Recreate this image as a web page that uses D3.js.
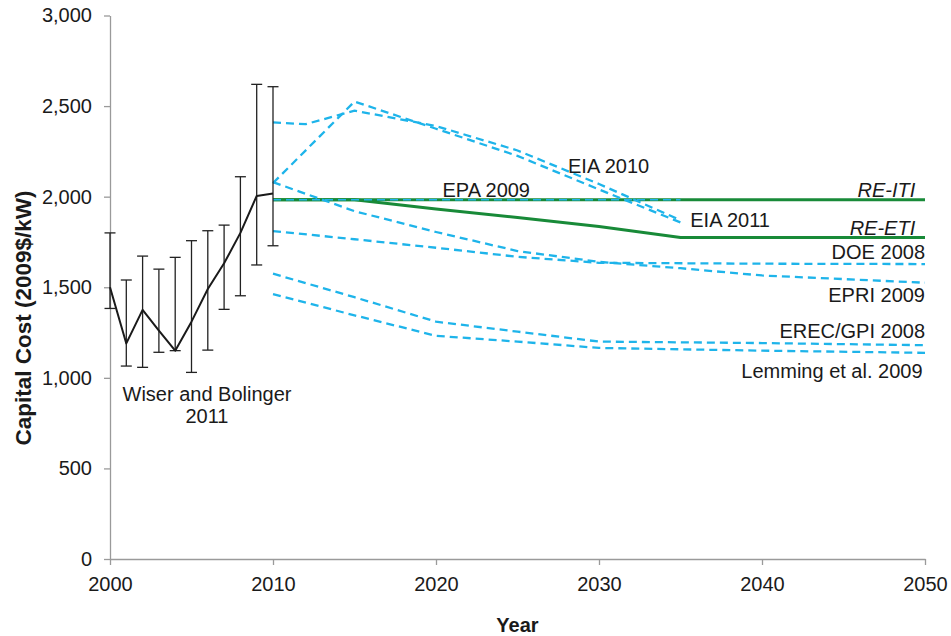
<!DOCTYPE html>
<html>
<head>
<meta charset="utf-8">
<script src="https://cdn.jsdelivr.net/npm/d3@7"></script>
<style>
  html, body { margin: 0; padding: 0; background: #fff; }
  svg { display: block; font-family: "Liberation Sans", Arial, sans-serif; }
</style>
</head>
<body>
<svg id="chart" width="951" height="636"></svg>
<script>
// Historical installed cost (Wiser and Bolinger 2011) with ranges
const histYears = [2000, 2001, 2002, 2003, 2004, 2005, 2006, 2007, 2008, 2009, 2010];
const histCost  = [1500, 1190, 1375, 1260, 1150, 1310, 1490, 1632, 1800, 2004, 2018];
const histHigh  = [1800, 1540, 1672, 1600, 1665, 1757, 1812, 1843, 2110, 2620, 2607];
const histLow   = [1383, 1065, 1058, 1141, 1150, 1030, 1153, 1378, 1453, 1623, 1729];

// Projections (year, cost)
const eia2010Years = [2010, 2012, 2015, 2020, 2025, 2030, 2035];
const eia2010Cost  = [2410, 2400, 2475, 2390, 2255, 2070, 1870];
const eia2011Years = [2010, 2015, 2020, 2025, 2030, 2035];
const eia2011Cost  = [2075, 2525, 2375, 2225, 2040, 1858];
const epa2009Years = [2010, 2035];
const epa2009Cost  = [1983, 1983];
const doe2008Years = [2010, 2015, 2020, 2025, 2030, 2040, 2050];
const doe2008Cost  = [1810, 1765, 1718, 1668, 1635, 1630, 1628];
const epri2009Years = [2010, 2015, 2020, 2025, 2030, 2035, 2040, 2050];
const epri2009Cost  = [2080, 1920, 1805, 1700, 1640, 1605, 1565, 1525];
const erecYears = [2010, 2015, 2020, 2025, 2030, 2040, 2050];
const erecCost  = [1575, 1445, 1310, 1255, 1200, 1192, 1180];
const lemmingYears = [2010, 2015, 2020, 2025, 2030, 2040, 2050];
const lemmingCost  = [1462, 1345, 1232, 1200, 1165, 1150, 1138];

// Scenario trajectories
const reItiYears = [2010, 2050];
const reItiCost  = [1983, 1983];
const reEtiYears = [2010, 2015, 2020, 2025, 2030, 2035, 2050];
const reEtiCost  = [1983, 1983, 1932, 1885, 1835, 1775, 1775];

// Axis ticks
const xTicks = [2000, 2010, 2020, 2030, 2040, 2050];
const yTicks = [0, 500, 1000, 1500, 2000, 2500, 3000];

const zip = (xs, ys) => xs.map((x, i) => ({ x, y: ys[i] }));

const svg = d3.select("#chart");
const margin = { top: 15.5, right: 26, bottom: 77, left: 110 };
const W = 951, H = 636;

const x = d3.scaleLinear().domain([2000, 2050]).range([margin.left, W - margin.right]);
const y = d3.scaleLinear().domain([0, 3000]).range([H - margin.bottom, margin.top]);

const textColor = "#1a1a1a";
const axisColor = "#9a9a9a";
const blue = "#1eb4ea";
const green = "#188a38";

// Axes
const yAxis = d3.axisLeft(y).tickValues(yTicks).tickFormat(d3.format(",")).tickSize(6).tickSizeOuter(0).tickPadding(12);
const xAxis = d3.axisBottom(x).tickValues(xTicks).tickFormat(d3.format("d")).tickSize(6).tickSizeOuter(0).tickPadding(12);

const gy = svg.append("g").attr("transform", `translate(${margin.left},0)`).call(yAxis);
const gx = svg.append("g").attr("transform", `translate(0,${H - margin.bottom})`).call(xAxis);
[gx, gy].forEach(g => {
  g.select(".domain").attr("stroke", axisColor).attr("stroke-width", 1.3);
  g.selectAll(".tick line").attr("stroke", axisColor).attr("stroke-width", 1.3);
  g.selectAll(".tick text").attr("fill", textColor).style("font-size", "20px");
});

// Axis titles
svg.append("text")
  .attr("transform", "translate(31,318) rotate(-90)")
  .attr("text-anchor", "middle")
  .attr("fill", textColor)
  .style("font-size", "22.5px").style("font-weight", "bold")
  .text("Capital Cost (2009$/kW)");

svg.append("text")
  .attr("x", (x(2000) + x(2050)) / 2).attr("y", 632)
  .attr("text-anchor", "middle")
  .attr("fill", textColor)
  .style("font-size", "20px").style("font-weight", "bold")
  .text("Year");

const line = d3.line().x(d => x(d.x)).y(d => y(d.y));

// Scenario lines (solid green)
[zip(reItiYears, reItiCost), zip(reEtiYears, reEtiCost)].forEach(pts => {
  svg.append("path").datum(pts)
    .attr("d", line).attr("fill", "none")
    .attr("stroke", green).attr("stroke-width", 3)
    .attr("stroke-linejoin", "round");
});

// Projection lines (dashed blue)
const projections = [
  zip(eia2010Years, eia2010Cost),
  zip(eia2011Years, eia2011Cost),
  zip(doe2008Years, doe2008Cost),
  zip(epri2009Years, epri2009Cost),
  zip(erecYears, erecCost),
  zip(lemmingYears, lemmingCost)
];
projections.forEach(pts => {
  svg.append("path").datum(pts)
    .attr("d", line).attr("fill", "none")
    .attr("stroke", blue).attr("stroke-width", 2.3)
    .attr("stroke-dasharray", "8,5");
});
svg.append("path").datum(zip(epa2009Years, epa2009Cost))
  .attr("d", line).attr("fill", "none")
  .attr("stroke", blue).attr("stroke-width", 1.6)
  .attr("stroke-dasharray", "8,5");

// Historical costs with ranges
const hist = histYears.map((yr, i) => ({ x: yr, y: histCost[i], hi: histHigh[i], lo: histLow[i] }));
const eb = svg.append("g").attr("stroke", "#222").attr("stroke-width", 1.3);
hist.forEach(d => {
  eb.append("line").attr("x1", x(d.x)).attr("x2", x(d.x)).attr("y1", y(d.hi)).attr("y2", y(d.lo));
  eb.append("line").attr("x1", x(d.x) - 5.5).attr("x2", x(d.x) + 5.5).attr("y1", y(d.hi)).attr("y2", y(d.hi));
  eb.append("line").attr("x1", x(d.x) - 5.5).attr("x2", x(d.x) + 5.5).attr("y1", y(d.lo)).attr("y2", y(d.lo));
});
svg.append("path").datum(hist)
  .attr("d", line).attr("fill", "none")
  .attr("stroke", "#1a1a1a").attr("stroke-width", 2)
  .attr("stroke-linejoin", "round");

// Series labels, anchored in data space
const labels = [
  { text: "Wiser and Bolinger", x: 2005.95, y: 872, anchor: "middle" },
  { text: "2011", x: 2005.95, y: 751, anchor: "middle" },
  { text: "EPA 2009", x: 2020.4, y: 1998, anchor: "start" },
  { text: "EIA 2010", x: 2028.1, y: 2131, anchor: "start" },
  { text: "EIA 2011", x: 2035.6, y: 1833, anchor: "start" },
  { text: "RE-ITI", x: 2049.4, y: 1998, anchor: "end", italic: true },
  { text: "RE-ETI", x: 2049.4, y: 1788, anchor: "end", italic: true },
  { text: "DOE 2008", x: 2050, y: 1656, anchor: "end" },
  { text: "EPRI 2009", x: 2050, y: 1419, anchor: "end" },
  { text: "EREC/GPI 2008", x: 2050, y: 1220, anchor: "end" },
  { text: "Lemming et al. 2009", x: 2049.85, y: 999, anchor: "end" }
];
svg.append("g").selectAll("text").data(labels).join("text")
  .attr("x", d => x(d.x)).attr("y", d => y(d.y))
  .attr("text-anchor", d => d.anchor)
  .attr("fill", textColor)
  .style("font-size", "20px")
  .style("font-style", d => d.italic ? "italic" : "normal")
  .text(d => d.text);
</script>
</body>
</html>
